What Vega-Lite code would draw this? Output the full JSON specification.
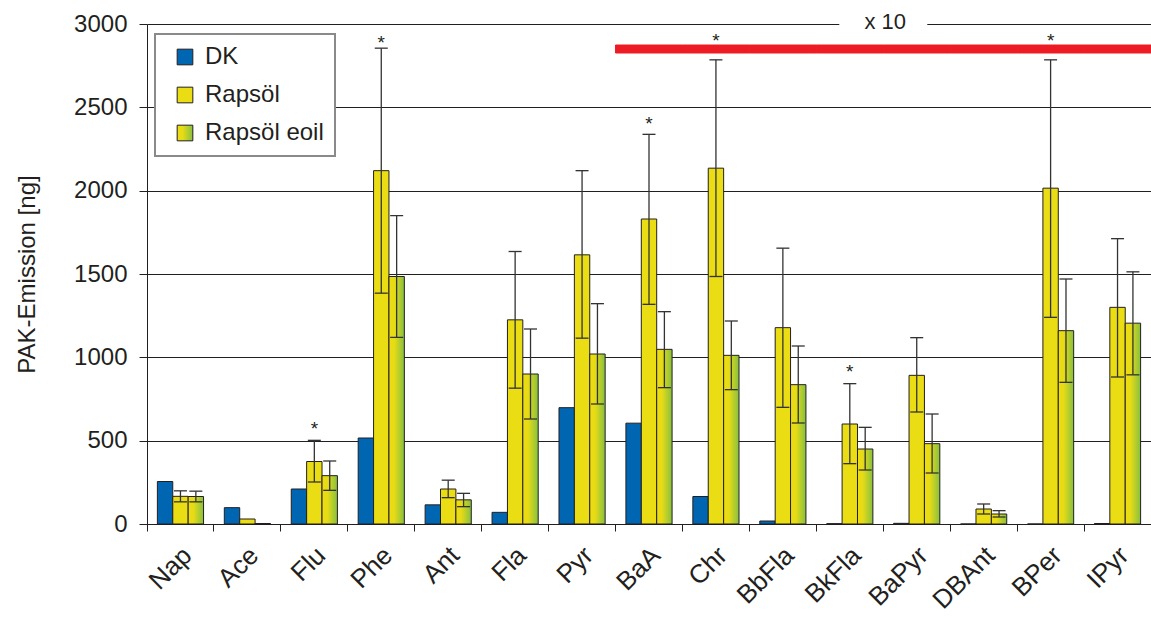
{
  "$schema": "https://vega.github.io/schema/vega-lite/v6.json",
  "width": 1004,
  "height": 500,
  "autosize": {"type": "none"},
  "padding": {"left": 147, "top": 24, "right": 0, "bottom": 94},
  "background": "white",
  "config": {
    "view": {"stroke": null},
    "font": "Liberation Sans",
    "axis": {
      "labelFont": "Liberation Sans",
      "titleFont": "Liberation Sans",
      "labelColor": "#231F20",
      "titleColor": "#231F20",
      "domainColor": "#231F20",
      "tickColor": "#231F20",
      "titleFontWeight": "normal"
    },
    "legend": {"labelFont": "Liberation Sans"}
  },
  "datasets": {
    "bars": [
      {"cat": "Nap", "series": "DK", "value": 255, "lo": null, "hi": null},
      {"cat": "Nap", "series": "Rapsöl", "value": 166, "lo": 133, "hi": 199},
      {"cat": "Nap", "series": "Rapsöl eoil", "value": 165, "lo": 133, "hi": 197},
      {"cat": "Ace", "series": "DK", "value": 98, "lo": null, "hi": null},
      {"cat": "Ace", "series": "Rapsöl", "value": 30, "lo": null, "hi": null},
      {"cat": "Ace", "series": "Rapsöl eoil", "value": 3, "lo": null, "hi": null},
      {"cat": "Flu", "series": "DK", "value": 210, "lo": null, "hi": null},
      {"cat": "Flu", "series": "Rapsöl", "value": 375, "lo": 252, "hi": 502},
      {"cat": "Flu", "series": "Rapsöl eoil", "value": 290, "lo": 202, "hi": 378},
      {"cat": "Phe", "series": "DK", "value": 516, "lo": null, "hi": null},
      {"cat": "Phe", "series": "Rapsöl", "value": 2120, "lo": 1385, "hi": 2855},
      {"cat": "Phe", "series": "Rapsöl eoil", "value": 1485, "lo": 1120, "hi": 1850},
      {"cat": "Ant", "series": "DK", "value": 115, "lo": null, "hi": null},
      {"cat": "Ant", "series": "Rapsöl", "value": 210, "lo": 158, "hi": 263},
      {"cat": "Ant", "series": "Rapsöl eoil", "value": 145, "lo": 104, "hi": 184},
      {"cat": "Fla", "series": "DK", "value": 70, "lo": null, "hi": null},
      {"cat": "Fla", "series": "Rapsöl", "value": 1225, "lo": 815, "hi": 1635},
      {"cat": "Fla", "series": "Rapsöl eoil", "value": 900, "lo": 630, "hi": 1170},
      {"cat": "Pyr", "series": "DK", "value": 698, "lo": null, "hi": null},
      {"cat": "Pyr", "series": "Rapsöl", "value": 1615, "lo": 1115, "hi": 2120},
      {"cat": "Pyr", "series": "Rapsöl eoil", "value": 1020, "lo": 720, "hi": 1322},
      {"cat": "BaA", "series": "DK", "value": 605, "lo": null, "hi": null},
      {"cat": "BaA", "series": "Rapsöl", "value": 1830, "lo": 1318, "hi": 2338},
      {"cat": "BaA", "series": "Rapsöl eoil", "value": 1048, "lo": 818, "hi": 1274},
      {"cat": "Chr", "series": "DK", "value": 165, "lo": null, "hi": null},
      {"cat": "Chr", "series": "Rapsöl", "value": 2135, "lo": 1485, "hi": 2785},
      {"cat": "Chr", "series": "Rapsöl eoil", "value": 1012, "lo": 806, "hi": 1218},
      {"cat": "BbFla", "series": "DK", "value": 18, "lo": null, "hi": null},
      {"cat": "BbFla", "series": "Rapsöl", "value": 1178, "lo": 700, "hi": 1655},
      {"cat": "BbFla", "series": "Rapsöl eoil", "value": 836, "lo": 606, "hi": 1068},
      {"cat": "BkFla", "series": "DK", "value": 2, "lo": null, "hi": null},
      {"cat": "BkFla", "series": "Rapsöl", "value": 600, "lo": 362, "hi": 842},
      {"cat": "BkFla", "series": "Rapsöl eoil", "value": 450, "lo": 324, "hi": 580},
      {"cat": "BaPyr", "series": "DK", "value": 4, "lo": null, "hi": null},
      {"cat": "BaPyr", "series": "Rapsöl", "value": 892, "lo": 672, "hi": 1118},
      {"cat": "BaPyr", "series": "Rapsöl eoil", "value": 482, "lo": 306, "hi": 660},
      {"cat": "DBAnt", "series": "DK", "value": 0, "lo": null, "hi": null},
      {"cat": "DBAnt", "series": "Rapsöl", "value": 90, "lo": 60, "hi": 120},
      {"cat": "DBAnt", "series": "Rapsöl eoil", "value": 60, "lo": 42, "hi": 80},
      {"cat": "BPer", "series": "DK", "value": 0, "lo": null, "hi": null},
      {"cat": "BPer", "series": "Rapsöl", "value": 2015, "lo": 1240, "hi": 2785},
      {"cat": "BPer", "series": "Rapsöl eoil", "value": 1160, "lo": 850, "hi": 1470},
      {"cat": "IPyr", "series": "DK", "value": 3, "lo": null, "hi": null},
      {"cat": "IPyr", "series": "Rapsöl", "value": 1300, "lo": 882, "hi": 1712},
      {"cat": "IPyr", "series": "Rapsöl eoil", "value": 1205, "lo": 895, "hi": 1513}
    ],
    "stars": [
      {"cat": "Flu", "series": "Rapsöl", "y": 600},
      {"cat": "Phe", "series": "Rapsöl", "y": 2916},
      {"cat": "BaA", "series": "Rapsöl", "y": 2430},
      {"cat": "Chr", "series": "Rapsöl", "y": 2926},
      {"cat": "BkFla", "series": "Rapsöl", "y": 943},
      {"cat": "BPer", "series": "Rapsöl", "y": 2926}
    ],
    "red": [
      {"cat": "BaA", "lo": 2826, "hi": 2874},
      {"cat": "Chr", "lo": 2826, "hi": 2874},
      {"cat": "BbFla", "lo": 2826, "hi": 2874},
      {"cat": "BkFla", "lo": 2826, "hi": 2874},
      {"cat": "BaPyr", "lo": 2826, "hi": 2874},
      {"cat": "DBAnt", "lo": 2826, "hi": 2874},
      {"cat": "BPer", "lo": 2826, "hi": 2874},
      {"cat": "IPyr", "lo": 2826, "hi": 2874}
    ],
    "note": [
      {"cat": "BaPyr", "label": "x 10", "line": 3000, "y": 2970}
    ]
  },
  "encoding": {
    "x": {
      "field": "cat",
      "type": "nominal",
      "sort": ["Nap", "Ace", "Flu", "Phe", "Ant", "Fla", "Pyr", "BaA", "Chr", "BbFla", "BkFla", "BaPyr", "DBAnt", "BPer", "IPyr"],
      "scale": {"domain": ["Nap", "Ace", "Flu", "Phe", "Ant", "Fla", "Pyr", "BaA", "Chr", "BbFla", "BkFla", "BaPyr", "DBAnt", "BPer", "IPyr"], "paddingInner": 0, "paddingOuter": 0},
      "axis": {
        "title": null,
        "bandPosition": 0,
        "labelAngle": -45,
        "labelAlign": "right",
        "labelBaseline": "middle",
        "labelFontSize": 26,
        "labelPadding": 20,
        "labelOffset": 7,
        "tickSize": 7,
        "grid": false,
        "domainWidth": 1
      }
    }
  },
  "layer": [
    {
      "data": {"name": "bars"},
      "mark": {"type": "bar", "stroke": "#231F20", "strokeWidth": 1},
      "encoding": {
        "xOffset": {"field": "series", "type": "nominal", "scale": {"domain": ["DK", "Rapsöl", "Rapsöl eoil"], "paddingInner": 0, "paddingOuter": 0.675}},
        "y": {
          "field": "value",
          "type": "quantitative",
          "scale": {"domain": [0, 3000], "nice": false},
          "axis": {
            "title": "PAK-Emission [ng]",
            "values": [0, 500, 1000, 1500, 2000, 2500, 3000],
            "format": "d",
            "grid": true,
            "gridColor": "#231F20",
            "gridWidth": 1,
            "tickSize": 8,
            "labelFontSize": 24,
            "labelPadding": 12,
            "titleFontSize": 24,
            "titlePadding": 34,
            "domainWidth": 1
          }
        },
        "fill": {
          "field": "series",
          "type": "nominal",
          "scale": {"domain": ["DK", "Rapsöl", "Rapsöl eoil"], "range": ["#0066B2", "#EBDD14", {"expr": "{gradient: 'linear', stops: [{offset: 0, color: '#EEDD10'}, {offset: 0.35, color: '#E6DB16'}, {offset: 1, color: '#86C040'}]}"}]},
          "legend": {
            "title": null,
            "orient": "none",
            "legendX": 8,
            "legendY": 10,
            "symbolType": "square",
            "symbolSize": 246,
            "symbolStrokeColor": "#231F20",
            "symbolStrokeWidth": 1,
            "labelFontSize": 24,
            "labelColor": "#231F20",
            "labelOffset": 8,
            "rowPadding": 14,
            "padding": 11,
            "symbolOffset": 7,
            "labelExpr": "datum.label + '       '",
            "strokeColor": "#8A8A8A",
            "fillColor": "white",
            "encode": {
              "legend": {"update": {"strokeWidth": {"value": 2}}}
            }
          }
        }
      }
    },
    {
      "data": {"name": "bars"},
      "transform": [{"filter": "datum.hi != null"}],
      "mark": {"type": "rule", "color": "#333333", "strokeWidth": 1.3},
      "encoding": {
        "xOffset": {"field": "series", "type": "nominal", "scale": {"domain": ["DK", "Rapsöl", "Rapsöl eoil"], "paddingInner": 0, "paddingOuter": 0.675}},
        "y": {"field": "lo", "type": "quantitative", "title": "PAK-Emission [ng]"},
        "y2": {"field": "hi"}
      }
    },
    {
      "data": {"name": "bars"},
      "transform": [{"filter": "datum.hi != null"}],
      "mark": {"type": "tick", "color": "#333333", "thickness": 1.3, "size": 13, "opacity": 1},
      "encoding": {
        "xOffset": {"field": "series", "type": "nominal", "scale": {"domain": ["DK", "Rapsöl", "Rapsöl eoil"], "paddingInner": 0, "paddingOuter": 0.675}},
        "y": {"field": "hi", "type": "quantitative", "title": "PAK-Emission [ng]"}
      }
    },
    {
      "data": {"name": "bars"},
      "transform": [{"filter": "datum.hi != null"}],
      "mark": {"type": "tick", "color": "#333333", "thickness": 1.3, "size": 13, "opacity": 1},
      "encoding": {
        "xOffset": {"field": "series", "type": "nominal", "scale": {"domain": ["DK", "Rapsöl", "Rapsöl eoil"], "paddingInner": 0, "paddingOuter": 0.675}},
        "y": {"field": "lo", "type": "quantitative", "title": "PAK-Emission [ng]"}
      }
    },
    {
      "data": {"name": "red"},
      "mark": {"type": "bar", "fill": "#ED1C24", "stroke": "#ED1C24", "strokeWidth": 1},
      "encoding": {
        "y": {"field": "lo", "type": "quantitative", "title": "PAK-Emission [ng]"},
        "y2": {"field": "hi"}
      }
    },
    {
      "data": {"name": "note"},
      "mark": {"type": "point", "filled": true, "color": "white", "opacity": 1, "strokeWidth": 0, "shape": "M-1,-0.08L1,-0.08L1,0.08L-1,0.08Z", "size": 7744},
      "encoding": {
        "x": {"field": "cat", "type": "nominal", "bandPosition": 0},
        "y": {"field": "line", "type": "quantitative", "title": "PAK-Emission [ng]"}
      }
    },
    {
      "data": {"name": "note"},
      "mark": {"type": "text", "fontSize": 22, "color": "#231F20", "baseline": "alphabetic", "align": "center", "dx": 2},
      "encoding": {
        "x": {"field": "cat", "type": "nominal", "bandPosition": 0},
        "y": {"field": "y", "type": "quantitative", "title": "PAK-Emission [ng]"},
        "text": {"field": "label"}
      }
    },
    {
      "data": {"name": "stars"},
      "mark": {"type": "text", "fontSize": 19, "color": "#231F20", "baseline": "alphabetic", "align": "center", "dy": 11},
      "encoding": {
        "xOffset": {"field": "series", "type": "nominal", "scale": {"domain": ["DK", "Rapsöl", "Rapsöl eoil"], "paddingInner": 0, "paddingOuter": 0.675}},
        "y": {"field": "y", "type": "quantitative", "title": "PAK-Emission [ng]"},
        "text": {"value": "*"}
      }
    }
  ]
}
